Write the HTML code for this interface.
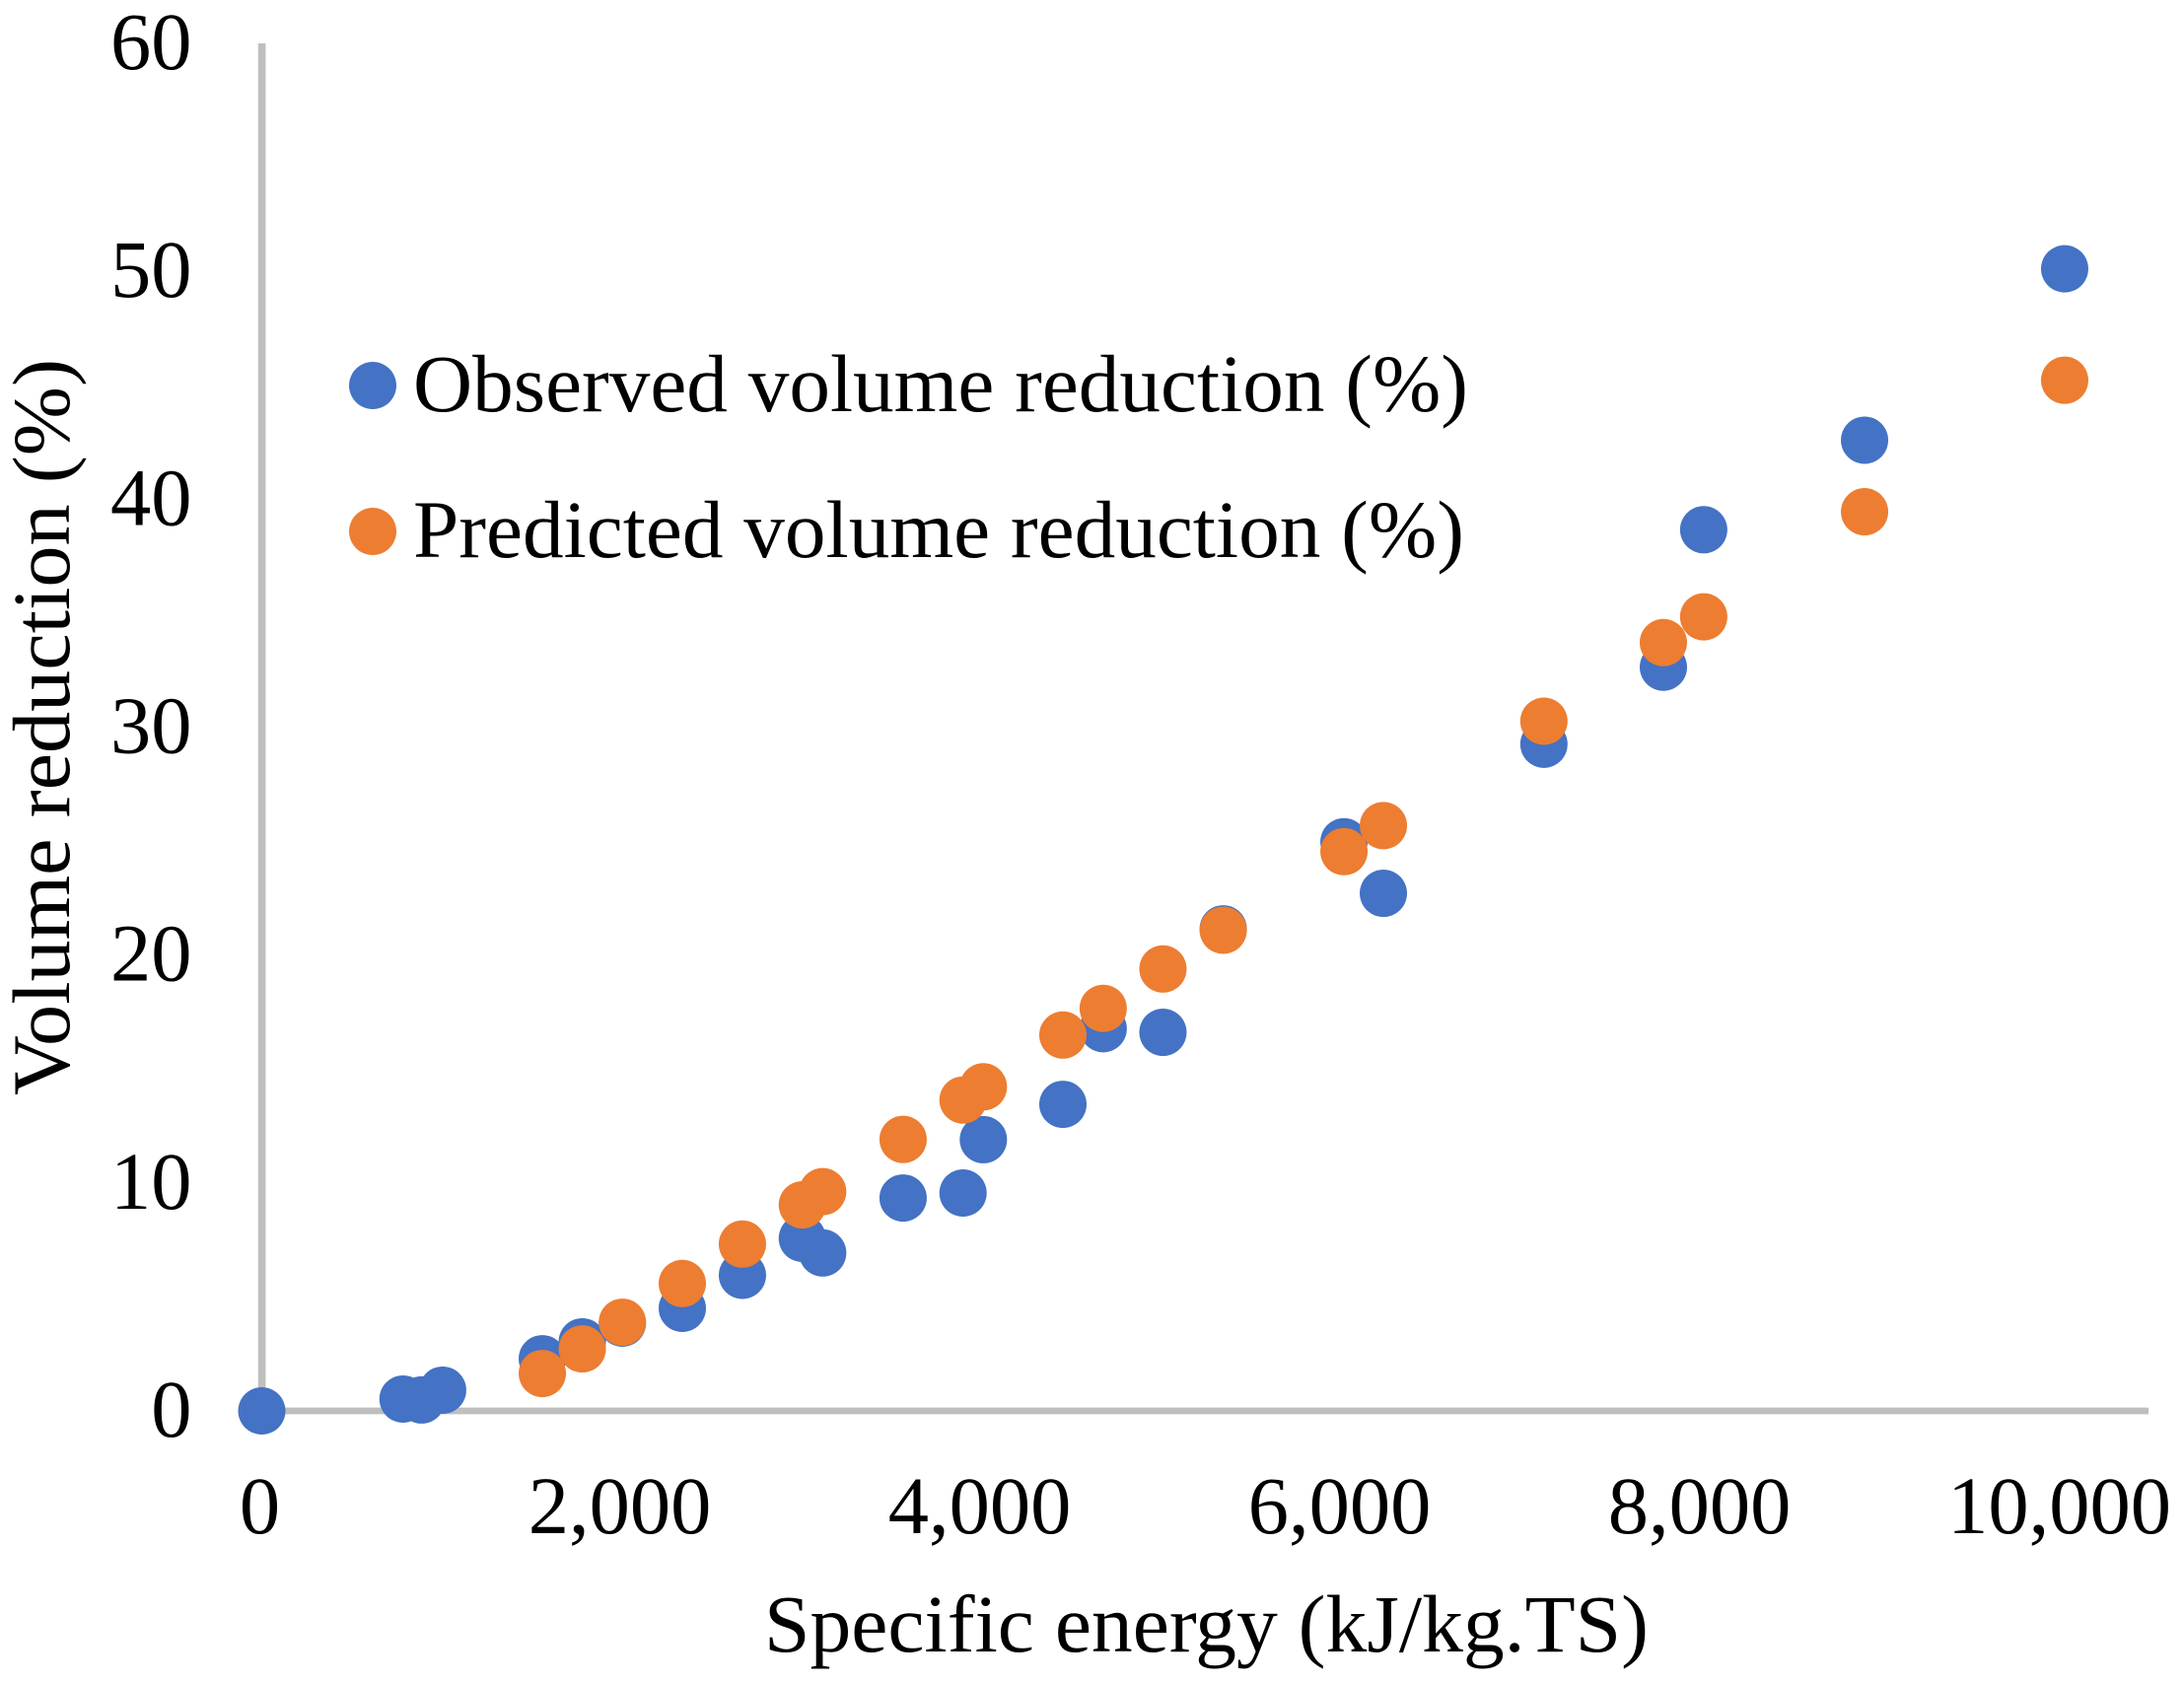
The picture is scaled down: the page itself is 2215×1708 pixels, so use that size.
<!DOCTYPE html>
<html lang="en">
<head>
<meta charset="utf-8">
<title>Observed and predicted volume reduction versus specific energy</title>
<style>
html,body{margin:0;padding:0;background:#fff;}
svg{display:block;}
text{font-family:"Liberation Serif","Times New Roman",serif;fill:#000;}
</style>
</head>
<body>
<svg id="chart" xmlns="http://www.w3.org/2000/svg" width="2215" height="1708" viewBox="0 0 2215 1708">
  <rect x="0" y="0" width="2215" height="1708" fill="#ffffff"/>
  <g id="axes"></g>
  <g id="tick-labels"></g>
  <g id="observed-series"></g>
  <g id="predicted-series"></g>
  <text x="775" y="1675" font-size="83" textLength="897" lengthAdjust="spacingAndGlyphs">Specific energy (kJ/kg.TS)</text>
  <text transform="translate(70 1111) rotate(-90)" x="0" y="0" font-size="83" textLength="747" lengthAdjust="spacingAndGlyphs">Volume reduction (%)</text>
  <g>
    <circle cx="378" cy="391" r="24" fill="#4472C4"/>
    <text x="419" y="417" font-size="83" textLength="1070" lengthAdjust="spacingAndGlyphs">Observed volume reduction (%)</text>
    <circle cx="378" cy="539" r="24" fill="#ED7D31"/>
    <text x="419" y="565" font-size="83" textLength="1066" lengthAdjust="spacingAndGlyphs">Predicted volume reduction (%)</text>
  </g>
</svg>
<script>
const energyObserved = [0,785,888,1005,1559,1781,2004,2337,2671,3004,3117,3564,3897,4010,4452,4676,5008,5343,6014,6233,7125,7789,8013,8907,10019];
const observedReduction = [0,0.52,0.48,0.91,2.29,3.03,3.85,4.50,5.95,7.57,6.93,9.34,9.56,11.9,13.45,16.77,16.61,21.15,24.97,22.71,29.25,32.63,38.66,42.59,50.11];
const energyPredicted = [1559,1781,2004,2337,2671,3004,3117,3564,3897,4010,4452,4676,5008,5343,6014,6233,7125,7789,8013,8907,10019];
const predictedReduction = [1.64,2.72,3.89,5.59,7.32,9.04,9.62,11.91,13.64,14.22,16.49,17.66,19.39,21.09,24.54,25.68,30.26,33.71,34.84,39.45,45.22];
const xTickValues = [0,2000,4000,6000,8000,10000];
const xTickLabels = ["0","2,000","4,000","6,000","8,000","10,000"];
const yTickValues = [0,10,20,30,40,50,60];
const yTickLabels = ["0","10","20","30","40","50","60"];
const xAxisEnd = 10485;
const yAxisEnd = 60;

const SVG_NS = "http://www.w3.org/2000/svg";
function xScale(v){ return 265.5 + v * 0.1825; }
function yScale(v){ return 1431 - v * (1387 / 60); }

const axesGroup = document.getElementById("axes");
const xAxisLine = document.createElementNS(SVG_NS, "rect");


xAxisLine.setAttribute("x", xScale(0));
xAxisLine.setAttribute("y", yScale(0) - 3.4);
xAxisLine.setAttribute("width", xScale(xAxisEnd) - xScale(0));
xAxisLine.setAttribute("height", 6.8);
xAxisLine.setAttribute("fill", "#BFBFBF");
axesGroup.appendChild(xAxisLine);

const yAxisLine = document.createElementNS(SVG_NS, "rect");


yAxisLine.setAttribute("x", xScale(0) - 3.7);
yAxisLine.setAttribute("y", yScale(yAxisEnd));
yAxisLine.setAttribute("width", 7.6);
yAxisLine.setAttribute("height", yScale(0) - yScale(yAxisEnd));
yAxisLine.setAttribute("fill", "#BFBFBF");
axesGroup.appendChild(yAxisLine);

const tickGroup = document.getElementById("tick-labels");
xTickValues.forEach(function(v, i){
  const t = document.createElementNS(SVG_NS, "text");
  
  
  t.setAttribute("x", xScale(v) - 2);
  t.setAttribute("y", 1555);
  t.setAttribute("font-size", 82.5);
  t.setAttribute("text-anchor", "middle");
  t.textContent = xTickLabels[i];
  tickGroup.appendChild(t);
});
yTickValues.forEach(function(v, i){
  const t = document.createElementNS(SVG_NS, "text");
  
  
  t.setAttribute("x", 194.5);
  t.setAttribute("y", yScale(v) + 26);
  t.setAttribute("font-size", 82.5);
  t.setAttribute("text-anchor", "end");
  t.textContent = yTickLabels[i];
  tickGroup.appendChild(t);
});

const observedGroup = document.getElementById("observed-series");
energyObserved.forEach(function(e, i){
  const c = document.createElementNS(SVG_NS, "circle");
  
  
  c.setAttribute("cx", xScale(e));
  c.setAttribute("cy", yScale(observedReduction[i]));
  c.setAttribute("r", 24);
  c.setAttribute("fill", "#4472C4");
  observedGroup.appendChild(c);
});

const predictedGroup = document.getElementById("predicted-series");
energyPredicted.forEach(function(e, i){
  const c = document.createElementNS(SVG_NS, "circle");
  
  
  c.setAttribute("cx", xScale(e));
  c.setAttribute("cy", yScale(predictedReduction[i]));
  c.setAttribute("r", 24);
  c.setAttribute("fill", "#ED7D31");
  predictedGroup.appendChild(c);
});
</script>
</body>
</html>
